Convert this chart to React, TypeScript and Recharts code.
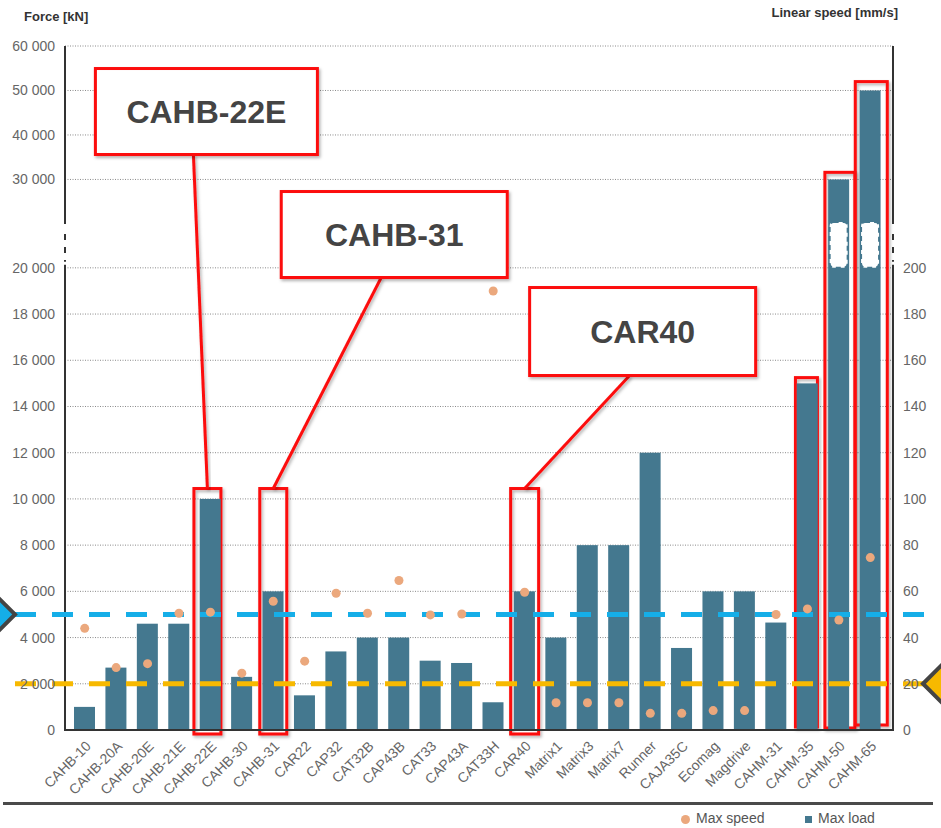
import {
  Bar,
  CartesianGrid,
  ComposedChart,
  Label,
  Legend,
  Line,
  ReferenceArea,
  ReferenceLine,
  XAxis,
  YAxis,
} from 'recharts'

const models = [
  'CAHB-10', 'CAHB-20A', 'CAHB-20E', 'CAHB-21E', 'CAHB-22E', 'CAHB-30', 'CAHB-31',
  'CAR22', 'CAP32', 'CAT32B', 'CAP43B', 'CAT33', 'CAP43A', 'CAT33H', 'CAR40',
  'Matrix1', 'Matrix3', 'Matrix7', 'Runner', 'CAJA35C', 'Ecomag', 'Magdrive',
  'CAHM-31', 'CAHM-35', 'CAHM-50', 'CAHM-65',
]
// Max load [kN]
const maxLoad = [
  1000, 2700, 4600, 4600, 10000, 2300, 6000, 1500, 3400, 4000, 4000, 3000, 2900,
  1200, 6000, 4000, 8000, 8000, 12000, 3550, 6000, 6000, 4650, 15000, 30000, 50000,
]
// Max speed [mm/s]
const maxSpeed = [
  44, 27, 28.7, 50.5, 51, 24.6, 55.7, 29.8, 59.2, 50.5, 64.7, 49.8, 50.2, 190, 59.6,
  11.8, 11.8, 11.8, 7.2, 7.2, 8.4, 8.4, 50, 52.4, 47.6, 74.6,
]
const forceTicks = [
  0, 2000, 4000, 6000, 8000, 10000, 12000, 14000, 16000, 18000, 20000, 30000, 40000, 50000, 60000,
]
const speedTicks = [0, 20, 40, 60, 80, 100, 120, 140, 160, 180, 200]

const loadLimit = 5000 // kN, blue line
const speedLimit = 20 // mm/s, yellow line

// red boxes drawn round some bars, top given in kN
const highlights = [
  { model: 'CAHB-22E', top: 10450, shift: -3, w: 27, below: 4 },
  { model: 'CAHB-31', top: 10450, shift: 0, w: 27, below: 4 },
  { model: 'CAR40', top: 10450, shift: 0, w: 28, below: 4 },
  { model: 'CAHM-35', top: 15250, shift: -1, w: 22, below: -3 },
  { model: 'CAHM-50', top: 31600, shift: 1, w: 30, below: -2 },
  { model: 'CAHM-65', top: 52000, shift: 1, w: 32, below: -5 },
]
// callout boxes, placed relative to the top of their red box
const callouts = [
  { model: 'CAHB-22E', text: 'CAHB-22E', dx: -1, dy: -377, w: 222, h: 86 },
  { model: 'CAHB-31', text: 'CAHB-31', dx: 121, dy: -254, w: 226, h: 86 },
  { model: 'CAR40', text: 'CAR40', dx: 118, dy: -157, w: 226, h: 88 },
]

// broken force axis: 0..20 000 at full scale, then a gap, then compressed
const BREAK_FROM = 20000
const BREAK_TO = 21900
const UPPER_RATIO = 0.1925
const toAxis = (v: number) => (v <= BREAK_FROM ? v : BREAK_TO + (v - BREAK_FROM) * UPPER_RATIO)
const fromAxis = (a: number) =>
  a <= BREAK_FROM ? a : Math.round(BREAK_FROM + (a - BREAK_TO) / UPPER_RATIO)
const FORCE_TOP = toAxis(60000)
const SPEED_TOP = FORCE_TOP / 100

const PAD_LEFT = 4
const PAD_RIGHT = 7

const BAR = '#44788f'
const DOT = '#eba87d'
const RED = '#fc0d0d'
const BLUE = '#15aee8'
const YELLOW = '#f7b900'
const FONT = '"Liberation Sans", Arial, sans-serif'

const fmt = (v: number) => String(v).replace(/\B(?=(\d{3})+(?!\d))/g, ' ')

const data = models.map((name, i) => ({
  name,
  load: maxLoad[i],
  loadAxis: toAxis(maxLoad[i]),
  speed: maxSpeed[i],
}))

const BrokenBar = (props: any) => {
  const { x, y, width, height, payload, fill } = props
  const bottom = y + height
  const ppu = height / payload.loadAxis
  const gapTop = bottom - BREAK_TO * ppu - 2
  const gapBottom = bottom - BREAK_FROM * ppu
  return (
    <g>
      <rect x={x} y={y} width={width} height={height} fill={fill} />
      {payload.loadAxis > BREAK_TO && (
        <rect
          x={x + 1.5}
          y={gapTop}
          width={width - 3}
          height={gapBottom - gapTop}
          rx={4}
          fill="#fff"
          stroke={fill}
          strokeWidth={2}
          strokeDasharray="5 4"
        />
      )}
    </g>
  )
}

const AxisFrame = (props: any) => {
  const { x, y, width, height } = props
  const bottom = y + height
  const ppu = height / FORCE_TOP
  const gapTop = bottom - BREAK_TO * ppu
  const gapBottom = bottom - BREAK_FROM * ppu
  const axis = (ax: number) => (
    <g key={ax} stroke="#333" strokeWidth={2}>
      <line x1={ax} x2={ax} y1={y} y2={gapTop} />
      <line x1={ax} x2={ax} y1={gapTop + 10} y2={gapBottom - 6} strokeDasharray="6 7" />
      <line x1={ax} x2={ax} y1={gapBottom - 3} y2={bottom + 1} />
    </g>
  )
  return (
    <g>
      {axis(x - PAD_LEFT)}
      {axis(x + width + PAD_RIGHT)}
    </g>
  )
}

const Diamond = ({ cx, cy, fill }: { cx: number; cy: number; fill: string }) => (
  <path
    d={`M${cx - 22},${cy} L${cx},${cy - 22} L${cx + 22},${cy} L${cx},${cy + 22} Z`}
    fill={fill}
    stroke="#444"
    strokeWidth={4}
  />
)

const LimitLine = (props: any) => {
  const { x1, x2, y1, color, side } = props
  const start = Math.min(x1, x2) - 50
  const end = Math.max(x1, x2) + 32
  return (
    <g>
      <line
        x1={start}
        x2={end}
        y1={y1}
        y2={y1}
        stroke={color}
        strokeWidth={5}
        strokeDasharray="21 16"
      />
      {side === 'left' ? (
        <Diamond cx={start - 22} cy={y1} fill={color} />
      ) : (
        <Diamond cx={end + 20} cy={y1} fill={color} />
      )}
    </g>
  )
}

const Highlight = (props: any) => {
  const { x, y, width, height, h } = props
  const cx = x + width / 2 + h.shift
  const bottom = y + height + h.below
  const c = callouts.find((item) => item.model === h.model)
  return (
    <g>
      <rect
        x={cx - h.w / 2}
        y={y}
        width={h.w}
        height={bottom - y}
        fill="none"
        stroke={RED}
        strokeWidth={3}
        filter="url(#boxShadow)"
      />
      {c && (
        <g>
          <line
            x1={cx + c.dx - 13}
            y1={y + c.dy + c.h / 2}
            x2={cx}
            y2={y}
            stroke={RED}
            strokeWidth={3}
            filter="url(#boxShadow)"
          />
          <rect
            x={cx + c.dx - c.w / 2}
            y={y + c.dy - c.h / 2}
            width={c.w}
            height={c.h}
            fill="#fff"
            stroke={RED}
            strokeWidth={3}
            filter="url(#boxShadow)"
          />
          <text
            x={cx + c.dx}
            y={y + c.dy + 11.5}
            textAnchor="middle"
            fontFamily={FONT}
            fontWeight="bold"
            fontSize={32}
            fill="#444"
          >
            {c.text}
          </text>
        </g>
      )}
    </g>
  )
}

const LegendBox = () => (
  <div style={{ position: 'relative', height: 33, fontFamily: FONT, fontSize: 14, color: '#555' }}>
    <div style={{ position: 'absolute', left: 3, width: 930, top: 7, height: 3, background: '#4a4a4a' }} />
    <div
      style={{
        position: 'absolute',
        left: 680.5,
        top: 19.5,
        width: 9,
        height: 9,
        borderRadius: '50%',
        background: DOT,
      }}
    />
    <span style={{ position: 'absolute', left: 696, top: 15, lineHeight: '16px' }}>Max speed</span>
    <div style={{ position: 'absolute', left: 805, top: 20.5, width: 7, height: 7, background: BAR }} />
    <span style={{ position: 'absolute', left: 818, top: 15, lineHeight: '16px' }}>Max load</span>
  </div>
)

export default function App() {
  return (
    <div style={{ position: 'absolute', left: 0, top: 0, width: 941, height: 828, background: '#fff' }}>
      <ComposedChart
        width={941}
        height={828}
        data={data}
        margin={{ top: 46, right: 0, bottom: 0, left: 0 }}
        barSize={21}
      >
        <defs>
          <filter id="boxShadow" x="-20%" y="-20%" width="140%" height="140%">
            <feDropShadow dx="1.5" dy="2" stdDeviation="1.8" floodColor="#000" floodOpacity="0.3" />
          </filter>
        </defs>
        <CartesianGrid
          yAxisId="force"
          vertical={false}
          stroke="#8a8a8a"
          strokeDasharray="1 1.5"
        />
        <XAxis
          dataKey="name"
          interval={0}
          angle={-45}
          textAnchor="end"
          height={65}
          tickSize={0}
          tickMargin={10}
          tickLine={false}
          padding={{ left: PAD_LEFT, right: PAD_RIGHT }}
          axisLine={{ stroke: '#333', strokeWidth: 2 }}
          tick={{ fontSize: 14, fill: '#666', fontFamily: FONT }}
        />
        <YAxis
          yAxisId="force"
          type="number"
          domain={[0, FORCE_TOP]}
          ticks={forceTicks.map(toAxis)}
          tickFormatter={(v: number) => fmt(fromAxis(v))}
          width={65}
          axisLine={false}
          tickLine={false}
          tickSize={0}
          tickMargin={10}
          tick={{ fontSize: 14, fill: '#666', fontFamily: FONT }}
        >
          <Label
            content={(p: any) => (
              <text
                x={p.viewBox.x + 24}
                y={p.viewBox.y - 25}
                fontFamily={FONT}
                fontWeight="bold"
                fontSize={13}
                fill="#333"
              >
                Force [kN]
              </text>
            )}
          />
        </YAxis>
        <YAxis
          yAxisId="speed"
          orientation="right"
          type="number"
          domain={[0, SPEED_TOP]}
          ticks={speedTicks}
          width={48}
          axisLine={false}
          tickLine={false}
          tickSize={0}
          tickMargin={10}
          tick={{ fontSize: 14, fill: '#666', fontFamily: FONT }}
        >
          <Label
            content={(p: any) => (
              <text
                x={p.viewBox.x + 5}
                y={p.viewBox.y - 29}
                textAnchor="end"
                fontFamily={FONT}
                fontWeight="bold"
                fontSize={13}
                fill="#333"
              >
                Linear speed [mm/s]
              </text>
            )}
          />
        </YAxis>
        <ReferenceArea yAxisId="force" y1={0} y2={FORCE_TOP} fill="none" shape={AxisFrame} />
        <Bar
          yAxisId="force"
          dataKey="loadAxis"
          name="Max load"
          fill={BAR}
          shape={BrokenBar}
          isAnimationActive={false}
        />
        <Line
          yAxisId="speed"
          dataKey="speed"
          name="Max speed"
          stroke="none"
          dot={{ r: 4.5, fill: DOT, stroke: 'none' }}
          activeDot={false}
          isAnimationActive={false}
        />
        <ReferenceLine
          yAxisId="force"
          y={loadLimit}
          shape={(p: any) => <LimitLine {...p} color={BLUE} side="left" />}
        />
        <ReferenceLine
          yAxisId="speed"
          y={speedLimit}
          shape={(p: any) => <LimitLine {...p} color={YELLOW} side="right" />}
        />
        {highlights.map((h) => (
          <ReferenceArea
            key={h.model}
            yAxisId="force"
            x1={h.model}
            x2={h.model}
            y1={0}
            y2={toAxis(h.top)}
            fill="none"
            shape={(p: any) => <Highlight {...p} h={h} />}
          />
        ))}
        <Legend verticalAlign="bottom" content={() => <LegendBox />} />
      </ComposedChart>
    </div>
  )
}
